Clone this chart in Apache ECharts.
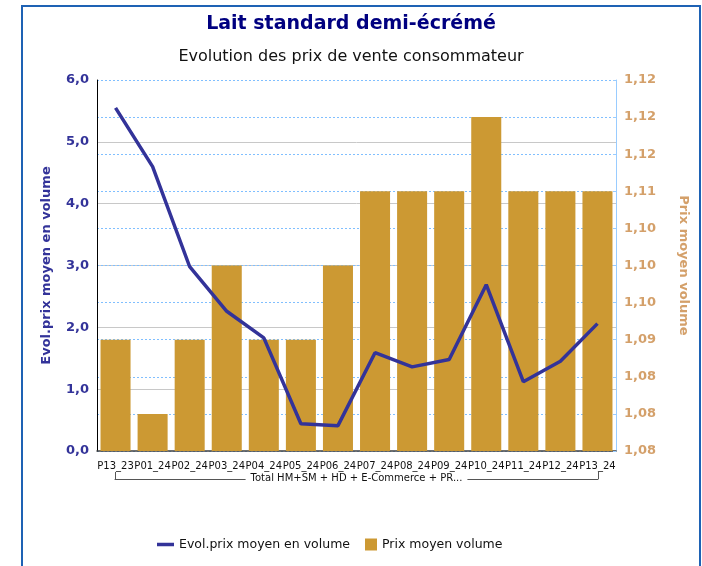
<!DOCTYPE html>
<html>
<head>
<meta charset="utf-8">
<script src="https://cdn.jsdelivr.net/npm/echarts@6/dist/echarts.min.js"></script>
<style>
  html, body { margin: 0; padding: 0; background: #fff; }
  #chart { width: 702px; height: 566px; }
</style>
</head>
<body>
<div id="chart"></div>
<script>
// périodes
const periodes = ['P13_23', 'P01_24', 'P02_24', 'P03_24', 'P04_24', 'P05_24', 'P06_24',
  'P07_24', 'P08_24', 'P09_24', 'P10_24', 'P11_24', 'P12_24', 'P13_24'];
// évolution du prix moyen en volume (axe gauche)
const evolPrix = [5.55, 4.60, 2.98, 2.26, 1.83, 0.44, 0.41, 1.59, 1.36, 1.48, 2.69, 1.12, 1.45, 2.06];
// prix moyen volume (axe droit)
const prixMoyen = [1.090, 1.080, 1.090, 1.100, 1.090, 1.090, 1.100, 1.110, 1.110, 1.110, 1.120, 1.110, 1.110, 1.110];
// libellés de l'axe droit, tels qu'affichés (arrondis)
const rightTicks = ['1,08', '1,08', '1,08', '1,09', '1,10', '1,10', '1,10', '1,11', '1,12', '1,12', '1,12'];
const groupe = ['Total HM+SM + HD + E-Commerce + PR...'];

const FONT = 'DejaVu Sans';
const BLEU = '#333399';
const OR = '#CC9933';
const BEIGE = '#D4A06A';

const chart = echarts.init(document.getElementById('chart'));
chart.setOption({
  animation: false,
  backgroundColor: '#fff',
  textStyle: { fontFamily: FONT },
  // cadre bleu autour du graphique
  graphic: [{
    type: 'rect', z: -1, silent: true,
    shape: { x: 22, y: 6, width: 678, height: 620 },
    style: { fill: 'none', stroke: '#1E62B4', lineWidth: 2 },
  }],
  title: [
    { text: 'Lait standard demi-écrémé', left: 'center', top: 10,
      textStyle: { fontFamily: FONT, fontSize: 19, fontWeight: 'bold', color: '#000080' } },
    { text: 'Evolution des prix de vente consommateur', left: 'center', top: 44,
      textStyle: { fontFamily: FONT, fontSize: 16, fontWeight: 'normal', color: '#111' } },
  ],
  legend: [
    { data: [{ name: 'Evol.prix moyen en volume', icon: 'rect' }], left: 152, top: 533,
      itemWidth: 17, itemHeight: 3.5,
      textStyle: { fontFamily: FONT, fontSize: 12.5, color: '#111' } },
    { data: [{ name: 'Prix moyen volume', icon: 'rect' }], left: 360, top: 533,
      itemWidth: 12, itemHeight: 12,
      textStyle: { fontFamily: FONT, fontSize: 12.5, color: '#111' } },
  ],
  grid: [
    { left: 97, right: 86, top: 80, bottom: 115 },
    { left: 115, right: 104, bottom: 87, height: 1 },
  ],
  xAxis: [
    {
      type: 'category', data: periodes, gridIndex: 0,
      axisLine: { lineStyle: { color: '#404040', width: 1.5 } },
      axisTick: { show: false },
      axisLabel: { interval: 0, margin: 10, fontFamily: FONT, fontSize: 10, color: '#111' },
    },
    {
      type: 'category', data: groupe, gridIndex: 1, boundaryGap: true,
      axisLine: { lineStyle: { color: '#555', width: 1 } },
      axisTick: { show: true, inside: true, length: 7, lineStyle: { color: '#555' } },
      axisLabel: { margin: -6, fontFamily: FONT, fontSize: 10, color: '#111',
        backgroundColor: '#fff', padding: [0, 5] },
    },
  ],
  yAxis: [
    {
      type: 'value', min: 0, max: 6, interval: 1, gridIndex: 0,
      name: 'Evol.prix moyen en volume', nameLocation: 'middle', nameGap: 44, nameRotate: 90,
      nameTextStyle: { fontFamily: FONT, fontSize: 13, fontWeight: 'bold', color: BLEU },
      axisLine: { show: true, lineStyle: { color: '#000', width: 1 } },
      axisTick: { show: false },
      axisLabel: { margin: 8, fontFamily: FONT, fontSize: 13, fontWeight: 'bold', color: BLEU,
        formatter: v => v.toFixed(1).replace('.', ',') },
      splitLine: { show: true, showMinLine: false, showMaxLine: false,
        lineStyle: { color: '#C8C8C8', width: 1 } },
    },
    {
      type: 'value', min: 1.075, max: 1.125, interval: 0.005, gridIndex: 0, position: 'right',
      name: 'Prix moyen volume', nameLocation: 'middle', nameGap: 61, nameRotate: -90,
      nameTextStyle: { fontFamily: FONT, fontSize: 13, fontWeight: 'bold', color: BEIGE },
      axisLine: { show: true, lineStyle: { color: '#99CCFF', width: 1 } },
      axisTick: { show: true, inside: true, length: 3, lineStyle: { color: '#99CCFF' } },
      axisLabel: { margin: 8, fontFamily: FONT, fontSize: 13, fontWeight: 'bold', color: BEIGE,
        formatter: (v, i) => rightTicks[i] },
      splitLine: { show: true, lineStyle: { color: '#80BFFF', type: [2, 2], width: 1 } },
    },
    { type: 'value', gridIndex: 1, show: false },
  ],
  series: [
    {
      name: 'Prix moyen volume', type: 'bar', xAxisIndex: 0, yAxisIndex: 1,
      data: prixMoyen, barCategoryGap: '19%',
      itemStyle: { color: OR },
      z: 2,
    },
    {
      name: 'Evol.prix moyen en volume', type: 'line', xAxisIndex: 0, yAxisIndex: 0,
      data: evolPrix, symbol: 'none',
      lineStyle: { color: BLEU, width: 3.5 },
      itemStyle: { color: BLEU },
      z: 4,
    },
  ],
});
</script>
</body>
</html>
